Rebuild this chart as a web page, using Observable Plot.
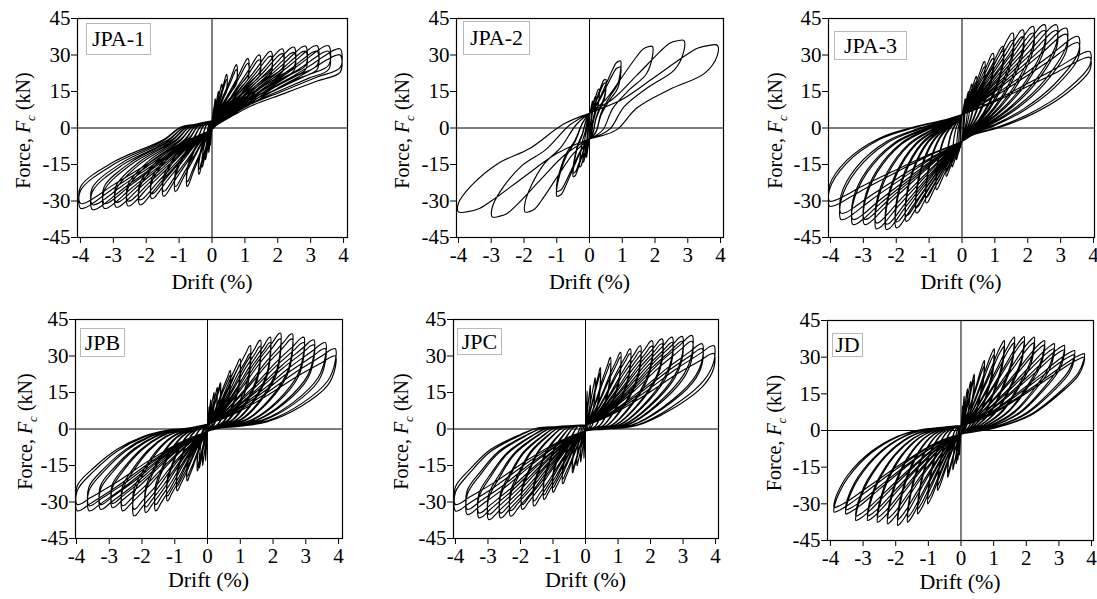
<!DOCTYPE html>
<html><head><meta charset="utf-8">
<script src="https://cdn.jsdelivr.net/npm/d3@7"></script>
<script src="https://cdn.jsdelivr.net/npm/@observablehq/plot@0.6"></script>
<style>
html,body{margin:0;padding:0;background:#fff;overflow:hidden;}
#fig{position:relative;width:1097px;height:599px;overflow:hidden;font-family:"Liberation Serif","Times New Roman",serif;}
#fig svg{position:absolute;overflow:visible;}
.tag{position:absolute;border:1px solid #b8b8b8;background:#fff;font-size:22px;line-height:1;display:flex;align-items:center;justify-content:center;box-sizing:border-box;color:#000;}
</style></head><body><div id="fig"></div>
<script>
// ---------- data: cycle peaks ----------
const driftTicks = [-4,-3,-2,-1,0,1,2,3,4];
const forceTicks = [-45,-30,-15,0,15,30,45];
const specimenNames = ["JPA-1","JPA-2","JPA-3","JPB","JPC","JD"];

const jpa1PosDrift = [0.05,0.1,0.2,0.3,0.45,0.45,0.75,0.75,1.1,1.1,1.45,1.45,1.8,1.8,2.15,2.15,2.5,2.5,2.85,2.85,3.2,3.2,3.55,3.55,3.9,3.9];
const jpa1PosForce = [8,12,15,18,22,20,26,24,28.5,26.5,30,28,31.5,29.5,32.5,30.5,33.2,31,33.6,31.5,33.8,31.5,33.8,31.5,32.5,30];
const jpa1NegDrift = [-0.05,-0.1,-0.2,-0.3,-0.4,-0.4,-0.76,-0.76,-1.12,-1.12,-1.48,-1.48,-1.84,-1.84,-2.2,-2.2,-2.56,-2.56,-2.92,-2.92,-3.28,-3.28,-3.64,-3.64,-4,-4];
const jpa1NegForce = [-7,-10,-13,-16,-19,-17,-24,-22,-26,-24,-28,-26,-29,-27,-31.5,-29.5,-32,-30,-32.5,-30.5,-33,-31,-33.5,-31.5,-33,-31];

const jpa2PosDrift = [0.05,0.1,0.2,0.3,0.5,0.5,0.95,0.95,1.92,2.88,3.9];
const jpa2PosForce = [7,11,13,16,20,18.5,27.5,25,33.5,36,34];
const jpa2NegDrift = [-0.05,-0.1,-0.2,-0.3,-0.5,-0.5,-1,-1,-1.97,-2.97,-4];
const jpa2NegForce = [-8,-12,-14,-16,-20,-18.5,-28,-26,-34.5,-36.5,-34.5];

const jpa3PosDrift = [0.05,0.1,0.2,0.3,0.44,0.44,0.69,0.69,0.95,0.95,1.25,1.25,1.55,1.55,1.86,1.86,2.17,2.17,2.52,2.52,2.88,2.88,3.18,3.18,3.54,3.54,3.89,3.89];
const jpa3PosForce = [8,12,15,18,21.2,19,27.3,25,30.7,28.5,33.5,31.5,39,36,40.3,37.5,41.7,39,42.4,40,42.4,40,41,38.5,37.6,35,31.4,29];
const jpa3NegDrift = [-0.05,-0.1,-0.17,-0.3,-0.48,-0.48,-0.78,-0.78,-1.09,-1.09,-1.39,-1.39,-1.7,-1.7,-2,-2,-2.3,-2.3,-2.61,-2.61,-2.97,-2.97,-3.32,-3.32,-3.68,-3.68,-4.03,-4.03];
const jpa3NegForce = [-8,-10,-13,-16,-19.8,-18,-25.3,-23,-30.8,-28.5,-34.9,-32.5,-38.3,-36,-41,-38.5,-41.7,-39.5,-41.4,-39,-39.6,-37.5,-39.6,-37.5,-37.6,-35,-32.1,-30];

const jpbPosDrift = [0.05,0.1,0.2,0.3,0.4,0.4,0.7,0.7,1,1,1.31,1.31,1.62,1.62,1.92,1.92,2.23,2.23,2.59,2.59,2.94,2.94,3.25,3.25,3.6,3.6,3.9,3.9];
const jpbPosForce = [9,12,15,17,19,17.5,24,22,28.8,26.5,34.3,31,36.5,34,37.7,35.5,39.4,37,39.1,37,37.7,35.5,36.6,34.5,35.5,33,33,30];
const jpbNegDrift = [-0.03,-0.06,-0.15,-0.25,-0.31,-0.31,-0.62,-0.62,-0.93,-0.93,-1.23,-1.23,-1.59,-1.59,-1.89,-1.89,-2.25,-2.25,-2.6,-2.6,-2.91,-2.91,-3.27,-3.27,-3.62,-3.62,-3.98,-3.98];
const jpbNegForce = [-8,-13,-15,-16,-17.2,-15.5,-21.3,-19.5,-25.4,-23.5,-29.5,-27.5,-33.6,-31,-34.3,-32,-35.7,-33,-33.6,-31.5,-32.3,-30.5,-33,-31,-33.6,-31.5,-33.6,-31];

const jpcPosDrift = [0.03,0.05,0.15,0.3,0.46,0.46,0.77,0.77,1.08,1.08,1.38,1.38,1.69,1.69,2.05,2.05,2.36,2.36,2.67,2.67,2.98,2.98,3.28,3.28,3.59,3.59,3.95,3.95];
const jpcPosForce = [8,15.5,18,21,25.2,23,29.4,27,31.5,29.5,32.9,31,34.2,32,36.3,34,37,35,37.7,35.5,38,36,38.4,36,35,33,34.2,31];
const jpcNegDrift = [-0.03,-0.05,-0.15,-0.26,-0.4,-0.4,-0.7,-0.7,-1,-1,-1.28,-1.28,-1.59,-1.59,-1.95,-1.95,-2.31,-2.31,-2.62,-2.62,-2.98,-2.98,-3.28,-3.28,-3.64,-3.64,-4,-4];
const jpcNegForce = [-8,-12,-13.5,-15,-18,-16.5,-22.5,-20.5,-26,-24,-28.9,-27,-31.6,-29.5,-33,-31,-35.8,-33.5,-36.5,-34.5,-37.2,-35,-36.5,-34.5,-35.1,-33,-33.7,-31];

const jdPosDrift = [0.05,0.1,0.2,0.3,0.41,0.41,0.72,0.72,1.02,1.02,1.33,1.33,1.64,1.64,1.94,1.94,2.25,2.25,2.56,2.56,2.86,2.86,3.17,3.17,3.48,3.48,3.78,3.78];
const jdPosForce = [10,14,17,20,23,21,28.6,26.5,33.4,31,36.8,34.5,38.2,36,38.4,36.5,38.2,36,36.8,35,35.5,33.5,34.8,33,32.7,31,31.4,30];
const jdNegDrift = [-0.05,-0.1,-0.15,-0.25,-0.41,-0.41,-0.72,-0.72,-1.02,-1.02,-1.33,-1.33,-1.64,-1.64,-1.94,-1.94,-2.25,-2.25,-2.56,-2.56,-2.86,-2.86,-3.22,-3.22,-3.53,-3.53,-3.89,-3.89];
const jdNegForce = [-10,-12,-13.6,-16,-19.1,-17.5,-24.5,-22.5,-30,-28,-34.1,-32,-37.5,-35.5,-38.9,-36.5,-38.2,-36,-37.5,-35.5,-36.8,-35,-36.8,-35,-34.1,-32.5,-33.4,-31.5];

// force where the curves cross zero drift (pinching), per specimen
const pinchUp   = [3, 6, 5.5, 2, 1.7, 2];
const pinchDown = [-0.5, -4.5, -5.5, -1, -0.8, -1.5];

// branch shapes read from the largest loops (fraction of peak drift, fraction of force span)
const loadFracT = [[0,0.25,0.5,0.75,0.9,0.96,1],[0,0.25,0.5,0.75,0.85,0.93,1],[0,0.25,0.5,0.75,0.9,0.96,1],[0,0.2,0.45,0.7,0.9,0.97,1],[0,0.2,0.45,0.7,0.9,0.97,1],[0,0.2,0.45,0.7,0.88,0.97,1]];
const loadFracF = [[0,0.2,0.48,0.75,0.93,0.99,1],[0,0.2,0.52,0.85,0.96,0.995,1],[0,0.22,0.48,0.75,0.93,0.99,1],[0,0.14,0.4,0.7,0.91,0.99,1],[0,0.14,0.4,0.7,0.91,0.99,1],[0,0.12,0.38,0.68,0.9,0.985,1]];
const posUnloadT = [[1,0.82,0.56,0.3,0.17,0.04,0],[1,0.9,0.63,0.37,0.22,0.11,0],[1,0.79,0.53,0.28,0.09,0],[1,0.94,0.73,0.47,0.26,0.08,0],[1,0.92,0.66,0.4,0.14,0],[0.995,0.95,0.84,0.57,0.3,0.08,0]];
const posUnloadF = [[0.77,0.65,0.48,0.31,0.19,0.06,0],[0.89,0.7,0.53,0.33,0.105,0.04,0],[0.85,0.54,0.31,0.16,0.08,0],[0.85,0.61,0.33,0.13,0.07,0.04,0],[0.82,0.59,0.27,0.07,0.02,0],[0.92,0.76,0.58,0.25,0.09,0.024,0]];
const negUnloadT = [[1,0.75,0.37,0.24,0.12,0],[1,0.9,0.7,0.45,0.2,0],[1,0.87,0.62,0.37,0.12,0],[1,0.87,0.69,0.49,0.31,0.15,0],[1,0.885,0.73,0.5,0.37,0.22,0],[0.995,0.95,0.89,0.71,0.5,0.34,0.13,0]];
const negUnloadF = [[0.8,0.5,0.23,0.08,0.04,0],[0.91,0.73,0.51,0.35,0.11,0],[0.82,0.53,0.27,0.146,0.056,0],[0.77,0.54,0.31,0.15,0.076,0.05,0],[0.78,0.55,0.31,0.12,0.04,0.02,0],[0.92,0.75,0.6,0.32,0.13,0.056,0.017,0]];

const posDrifts = [jpa1PosDrift,jpa2PosDrift,jpa3PosDrift,jpbPosDrift,jpcPosDrift,jdPosDrift];
const posForces = [jpa1PosForce,jpa2PosForce,jpa3PosForce,jpbPosForce,jpcPosForce,jdPosForce];
const negDrifts = [jpa1NegDrift,jpa2NegDrift,jpa3NegDrift,jpbNegDrift,jpcNegDrift,jdNegDrift];
const negForces = [jpa1NegForce,jpa2NegForce,jpa3NegForce,jpbNegForce,jpcNegForce,jdNegForce];

// ---------- layout ----------
const frames = [
  {left:77,  top:18,  w:270, h:219, xd:[-4.09,4.12], yl:47, tag:{dx:9, dy:5,  w:65, h:32}},
  {left:456, top:18,  w:267, h:219, xd:[-4.06,4.09], yl:47, tag:{dx:7, dy:3,  w:67, h:34}},
  {left:828, top:18,  w:266, h:219, xd:[-4.06,4.03], yl:46, tag:{dx:6, dy:13, w:73, h:29}},
  {left:75,  top:319, w:267, h:219, xd:[-4.03,4.12], yl:43, tag:{dx:5, dy:9,  w:45, h:29}},
  {left:453, top:319, w:265, h:219, xd:[-4.06,4.09], yl:45, tag:{dx:4, dy:9,  w:45, h:27}},
  {left:827, top:320, w:266, h:220, xd:[-4.09,4.06], yl:46, tag:{dx:5, dy:13, w:31, h:24}}
];
const ML = 80, MR = 14, MT = 18, MB = 66;

function buildLoops(i){
  const pts = []; let last = null;
  const push = (x, y) => {
    if (last && Math.abs(last.x - x) < 1e-9 && Math.abs(last.y - y) < 1e-9) return;
    last = {x, y}; pts.push(last);
  };
  const pu = pinchUp[i], pd = pinchDown[i];
  const lt = loadFracT[i], lf = loadFracF[i];
  posDrifts[i].forEach((d, c) => {
    const f = posForces[i][c], nd = negDrifts[i][c], nf = negForces[i][c];
    lt.forEach((t, k) => push(t * d, pu + lf[k] * (f - pu)));
    posUnloadT[i].forEach((t, k) => push(t * d, pd + posUnloadF[i][k] * (f - pd)));
    lt.forEach((t, k) => push(t * nd, pd + lf[k] * (nf - pd)));
    negUnloadT[i].forEach((t, k) => push(t * nd, pu + negUnloadF[i][k] * (nf - pu)));
  });
  return pts;
}

const fig = document.getElementById("fig");
frames.forEach((fr, i) => {
  const W = fr.w + ML + MR, H = fr.h + MT + MB;
  const svg = Plot.plot({
    width: W, height: H,
    marginLeft: ML, marginRight: MR, marginTop: MT, marginBottom: MB,
    x: {domain: fr.xd, axis: null},
    y: {domain: [-45, 45], axis: null},
    style: {fontFamily: '"Liberation Serif","Times New Roman",serif', fontSize: "21px", background: "transparent", color: "#000"},
    marks: [
      Plot.ruleX([0], {stroke: "#000", strokeWidth: 1}),
      Plot.ruleY([0], {stroke: "#000", strokeWidth: 1}),
      Plot.line(buildLoops(i), {x: "x", y: "y", curve: "catmull-rom", stroke: "#000", strokeWidth: 1.15, clip: true}),
      Plot.frame({stroke: "#000", strokeWidth: 1.2}),
      Plot.axisX({ticks: driftTicks, tickSize: 6, tickPadding: 4, tickFormat: d => String(d), label: null, fontSize: 21}),
      Plot.axisY({ticks: forceTicks, tickSize: 6, tickPadding: 1, tickFormat: d => String(d), label: null, fontSize: 21})
    ]
  });
  svg.style.left = (fr.left - ML) + "px";
  svg.style.top = (fr.top - MT) + "px";
  const s = d3.select(svg);
  const row2 = i >= 3;
  s.append("text")
    .attr("x", ML + fr.w / 2).attr("y", MT + fr.h + (row2 ? 49 : 52))
    .attr("text-anchor", "middle").attr("font-size", 22).attr("fill", "#000")
    .text("Drift (%)");
  const yl = s.append("text")
    .attr("transform", `translate(${ML - fr.yl},${MT + fr.h / 2 + 3}) rotate(-90)`)
    .attr("text-anchor", "middle").attr("font-size", 20).attr("fill", "#000");
  yl.append("tspan").text("Force, ");
  yl.append("tspan").attr("font-style", "italic").text("F");
  yl.append("tspan").attr("font-size", 13).attr("font-style", "italic").attr("dy", 5).text("c");
  yl.append("tspan").attr("dy", -5).text(" (kN)");
  fig.appendChild(svg);

  const tag = document.createElement("div");
  tag.className = "tag";
  tag.style.left = (fr.left + fr.tag.dx) + "px";
  tag.style.top = (fr.top + fr.tag.dy) + "px";
  tag.style.width = fr.tag.w + "px";
  tag.style.height = fr.tag.h + "px";
  tag.textContent = specimenNames[i];
  fig.appendChild(tag);
});
</script>
</body></html>
